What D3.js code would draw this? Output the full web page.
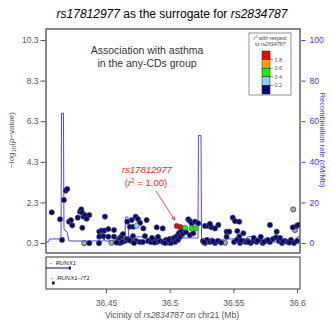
<!DOCTYPE html>
<html><head><meta charset="utf-8">
<script src="https://cdn.jsdelivr.net/npm/d3@7"></script>
<style>
body{margin:0;background:#fff;}
text{font-family:"Liberation Sans",Arial,sans-serif;}
</style></head>
<body><svg id="c" width="331" height="321"></svg>
<script>
// ---- data ----
const snpPos = [36.4074,36.4139,36.4155,36.4170,36.4184,36.4196,36.4210,36.4225,36.4235,36.4278,
36.4296,36.4306,36.4314,36.4322,36.4335,36.4348,36.4314,36.4369,36.4329,36.4369,
36.4445,36.4492,36.4447,36.4466,36.4487,36.4518,36.4447,36.4479,36.4518,36.4563,
36.4563,36.4542,36.4597,36.4610,36.4623,36.4633,36.4610,36.4649,36.4626,36.4665,
36.4582,36.4667,36.4688,36.4702,36.4714,36.4741,36.4733,36.4751,36.4767,36.4793,
36.4819,36.4712,36.4696,36.4736,36.4767,36.4806,36.4830,36.4853,36.4877,36.4898,
36.4900,36.4924,36.4945,36.4947,36.4971,36.4987,36.5002,36.5018,36.5034,36.5042,
36.5057,36.5065,36.5073,36.5081,36.5089,36.5101,36.5104,36.5055,36.5081,36.5099,
36.5120,36.5173,36.5204,36.5146,36.5159,36.5173,36.5199,36.5225,36.5159,36.5185,
36.5128,36.4908,36.4861,36.4963,36.5277,36.5303,36.5330,36.5356,36.5382,36.5316,
36.5261,36.5277,36.5293,36.5316,36.5332,36.5356,36.5379,36.5403,36.5434,36.5447,
36.5468,36.5447,36.5495,36.5513,36.5546,36.5531,36.5578,36.5546,36.5505,36.5528,
36.5552,36.5575,36.5599,36.5613,36.5636,36.5660,36.5683,36.5707,36.5730,36.5754,
36.5787,36.5787,36.5811,36.5840,36.5834,36.5858,36.5882,36.5905,36.5929,36.5952,
36.5970,36.5966,36.5984,36.5997,36.6010,36.5976,36.6000,36.5866,36.5715,36.5660,
36.4681,36.4720,36.4790,36.5620,36.5690,36.5740,36.5770,36.5890,36.5940,36.5270,
36.5340,36.5560,36.5010,36.4990,36.4880];
const snpLogP = [1.81,1.47,0.45,2.42,2.88,2.96,1.35,1.43,1.17,1.55,
1.84,1.96,1.79,1.60,1.68,1.50,1.05,1.68,0.29,0.29,
0.29,1.60,0.86,0.91,0.91,0.99,0.61,0.64,0.61,0.94,
0.61,0.31,0.45,0.55,0.64,0.74,0.30,0.40,0.35,0.50,
0.32,1.35,1.10,1.43,1.10,1.15,1.60,1.48,1.29,1.02,
1.43,0.64,0.40,0.40,0.35,0.64,0.40,0.35,0.45,1.07,
0.35,0.40,1.02,0.35,0.45,0.32,0.50,0.40,0.55,0.35,
0.64,0.45,0.79,0.60,0.89,0.74,0.99,1.14,1.10,1.02,
1.05,1.02,1.02,1.47,1.38,1.27,1.35,1.27,0.69,0.78,
0.84,0.60,0.55,0.30,1.14,1.14,1.07,1.02,1.19,1.24,
0.40,0.30,0.45,0.35,0.42,0.30,0.40,0.32,0.31,0.86,
0.86,0.61,1.55,1.38,1.35,0.89,0.78,0.61,0.35,0.45,
0.30,0.40,0.35,0.40,0.30,0.40,0.35,0.45,0.30,0.40,
1.19,0.35,0.50,0.86,0.58,0.40,0.30,0.40,0.35,0.45,
1.96,1.07,0.94,1.14,1.19,0.30,0.40,0.55,0.60,0.55,
0.45,0.30,0.35,0.35,0.42,0.35,0.45,0.38,0.32,0.35,
0.38,0.42,0.30,0.45,0.32];
// r2 with respect to rs2834787 (null = not available)
const snpR2 = [0.1,0.1,0.1,0.1,0.1,0.1,0.1,0.1,0.1,0.1,
0.1,0.1,0.1,0.1,0.1,0.1,0.1,0.1,null,0.1,
0.1,0.1,0.1,0.1,0.1,0.1,0.1,0.1,0.1,0.1,
0.1,null,0.1,0.1,0.1,0.1,0.1,0.1,0.1,0.1,
0.1,0.1,0.1,0.1,0.1,0.3,0.1,0.1,0.1,0.1,
0.1,0.1,0.1,0.1,0.1,0.1,0.1,0.1,0.1,0.1,
0.1,0.1,0.1,0.1,0.1,0.1,0.1,0.1,0.1,0.1,
0.1,0.1,0.1,0.1,0.1,0.1,0.1,1.0,0.95,null,
0.5,0.5,0.5,0.1,0.1,0.1,0.1,0.1,0.1,0.1,
0.1,0.1,0.1,0.1,0.1,0.1,0.1,0.1,0.1,0.1,
0.1,0.1,0.1,0.1,0.1,0.1,0.1,0.1,null,0.1,
0.1,0.1,0.1,0.1,0.1,0.1,0.1,0.1,0.1,0.1,
0.1,0.1,0.1,0.1,0.1,0.1,0.1,0.1,0.1,0.1,
0.1,0.1,0.1,0.1,0.1,0.1,0.1,0.1,0.1,0.1,
null,0.1,null,0.1,0.1,0.1,0.1,0.1,0.1,0.1,
0.1,0.1,0.1,0.1,0.1,0.1,0.1,0.1,0.1,0.1,
0.1,0.1,0.1,0.1,0.1];
const recPos = [36.4029,36.4045,36.4060,36.4139,36.4147,36.4151,36.4166,36.4170,36.4194,36.4210,
36.4476,36.4484,36.4492,36.4649,36.4653,36.4673,36.4677,36.4681,36.4822,36.4830,
36.5057,36.5073,36.5222,36.5226,36.5246,36.5250,36.5415,36.5423,36.5604,36.5612,36.5644,36.5652,
36.5992,36.6000,36.6023];
const recRate = [0.5,0.5,2.0,2.0,2.0,64,64,6.9,5.4,1.0,
1.0,2.5,1.0,1.0,12.8,12.8,3.0,3.0,3.0,0.5,
0.5,2.5,2.5,53,53,1.5,1.5,2.0,2.0,3.1,3.1,0.5,
0.5,3.0,3.0];
const leftTicks = [0.3,2.3,4.3,6.3,8.3,10.3];
const leftTickLabels = ["0.3","2.3","4.3","6.3","8.3","10.3"];
const rightTicks = [0,20,40,60,80,100];
const rightTickLabels = ["0","20","40","60","80","100"];
const xTicks = [36.45,36.5,36.55,36.6];
const xTickLabels = ["36.45","36.5","36.55","36.6"];
const legendBreaks = [1.0,0.8,0.6,0.4,0.2,0.0];
const legendColors = ["#FF0000","#FFA500","#00FF00","#87CEFA","#000080"];
const legendTickLabels = ["0.8","0.6","0.4","0.2"];
const genes = [{name:"RUNX1",start:36.4029,end:36.4220,row:0},{name:"RUNX1\u2212IT1",start:36.4085,end:36.4092,row:1}];
const leadSnp = {name:"rs17812977",pos:36.5055,logp:1.14,r2:"1.00"};

// ---- layout ----
const svg = d3.select("#c");
const L=46,R=300,T=29,B=253;
const x = d3.scaleLinear().domain([36.4029,36.6023]).range([L,R]);
const y = d3.scaleLinear().domain([0.3,10.3]).range([243,40]);
const yr = d3.scaleLinear().domain([0,100]).range([243,40]);
const r2col = d3.scaleThreshold().domain([0.2,0.4,0.6,0.8]).range(["#000080","#87CEFA","#00FF00","#FFA500","#FF0000"]);

// title
const title = svg.append("text").attr("x",172).attr("y",18).attr("text-anchor","middle").style("font-size","12px").attr("fill","#000");
title.append("tspan").attr("font-style","italic").text("rs17812977");
title.append("tspan").text(" as the surrogate for ");
title.append("tspan").attr("font-style","italic").text("rs2834787");

// clip
svg.append("clipPath").attr("id","pc").append("rect").attr("x",L).attr("y",T).attr("width",R-L).attr("height",B-T);
const g = svg.append("g").attr("clip-path","url(#pc)");

// recombination line
g.append("path").datum(recPos.map((p,i)=>[p,recRate[i]]))
 .attr("d",d3.line().x(d=>x(d[0])).y(d=>yr(d[1])))
 .attr("fill","none").attr("stroke","#4a4aff").attr("stroke-width",1);

// points
const pts = snpPos.map((p,i)=>({p,v:snpLogP[i],r:snpR2[i]}));
pts.sort((a,b)=>(a.r===null?0.05:a.r)-(b.r===null?0.05:b.r));
g.selectAll("circle.s").data(pts).join("circle")
 .attr("cx",d=>x(d.p)).attr("cy",d=>y(d.v)).attr("r",2.6)
 .attr("fill",d=>d.r===null?"#a8a8a8":r2col(d.r))
 .attr("stroke",d=>d.r===null?"#333":"#555").attr("stroke-width",0.7);

// plot box
svg.append("rect").attr("x",L).attr("y",T).attr("width",R-L).attr("height",B-T)
 .attr("fill","none").attr("stroke","#555").attr("stroke-width",1.4);

// left axis
const la = svg.append("g").attr("transform",`translate(${L-0.5},0)`)
 .call(d3.axisLeft(y).tickValues(leftTicks).tickFormat((d,i)=>leftTickLabels[i]).tickSize(5).tickPadding(2));
la.select(".domain").remove();
la.selectAll("line").attr("stroke","#555");
la.selectAll("text").attr("fill","#555").style("font-size","8.5px").style("font-family","Liberation Sans, Arial");

// right axis
const ra = svg.append("g").attr("transform",`translate(${R+1.5},0)`)
 .call(d3.axisRight(yr).tickValues(rightTicks).tickFormat((d,i)=>rightTickLabels[i]).tickSize(4).tickPadding(4));
ra.select(".domain").remove();
ra.selectAll("line").attr("stroke","#3838ff");
ra.selectAll("text").attr("fill","#3838ff").style("font-size","8.5px").style("font-family","Liberation Sans, Arial");

// axis titles
const yl = svg.append("text").attr("transform","translate(14,140) rotate(-90)").attr("text-anchor","middle")
 .attr("fill","#555").style("font-size","8px");
yl.append("tspan").text("\u2212log");
yl.append("tspan").attr("dy",2).style("font-size","6px").text("10");
yl.append("tspan").attr("dy",-2).text("(");
yl.append("tspan").attr("font-style","italic").text("p");
yl.append("tspan").text("\u2212value)");
svg.append("text").attr("transform","translate(320,140) rotate(90)").attr("text-anchor","middle")
 .attr("fill","#3838ff").style("font-size","7.5px").text("Recombination rate (cM/Mb)");

// annotation
svg.append("text").attr("x",147).attr("y",54).attr("text-anchor","middle").attr("fill","#333").style("font-size","10.5px").text("Association with asthma");
svg.append("text").attr("x",147).attr("y",67).attr("text-anchor","middle").attr("fill","#333").style("font-size","10.5px").text("in the any-CDs group");

// lead label
svg.append("text").attr("x",147).attr("y",173).attr("text-anchor","middle").attr("fill","#ff1a1a")
 .style("font-size","9.5px").attr("font-style","italic").text(leadSnp.name);
const l2 = svg.append("text").attr("x",146).attr("y",185.5).attr("text-anchor","middle").attr("fill","#ff1a1a").style("font-size","9.5px");
l2.append("tspan").text("(");
l2.append("tspan").attr("font-style","italic").text("r");
l2.append("tspan").attr("dy",-3).style("font-size","6.5px").text("2");
l2.append("tspan").attr("dy",3).text(" = " + leadSnp.r2 + ")");
// arrow
const ax0=156, ay0=191, ax1=x(leadSnp.pos)-2, ay1=y(leadSnp.logp)-6;
svg.append("line").attr("x1",ax0).attr("y1",ay0).attr("x2",ax1).attr("y2",ay1).attr("stroke","#ff1a1a").attr("stroke-width",0.8);
const ang=Math.atan2(ay1-ay0,ax1-ax0);
const ah=4;
svg.append("path").attr("d",`M${ax1-ah*Math.cos(ang-0.45)},${ay1-ah*Math.sin(ang-0.45)}L${ax1},${ay1}L${ax1-ah*Math.cos(ang+0.45)},${ay1-ah*Math.sin(ang+0.45)}`)
 .attr("fill","none").attr("stroke","#ff1a1a").attr("stroke-width",0.8);

// legend
const lg = svg.append("g");
lg.append("rect").attr("x",249).attr("y",33).attr("width",42).attr("height",62).attr("fill","#fff").attr("stroke","#777").attr("stroke-width",0.8);
const lt = lg.append("text").attr("x",270).attr("y",39.5).attr("text-anchor","middle").attr("fill","#444").style("font-size","5.2px");
lt.append("tspan").attr("font-style","italic").text("r");
lt.append("tspan").attr("dy",-1.5).style("font-size","3.8px").text("2");
lt.append("tspan").attr("dy",1.5).text(" with respect");
const lt2 = lg.append("text").attr("x",255).attr("y",45.5).attr("fill","#444").style("font-size","5.2px");
lt2.append("tspan").text("to ");
lt2.append("tspan").attr("font-style","italic").text("rs2834787");
const ly = d3.scaleLinear().domain([1,0]).range([51,94]);
lg.selectAll("rect.c").data(legendColors).join("rect").attr("class","c")
 .attr("x",262).attr("width",8).attr("y",(d,i)=>ly(legendBreaks[i])).attr("height",(d,i)=>ly(legendBreaks[i+1])-ly(legendBreaks[i]))
 .attr("fill",d=>d).attr("stroke","#222").attr("stroke-width",0.5);
lg.selectAll("line.t").data(legendTickLabels).join("line").attr("x1",270).attr("x2",273)
 .attr("y1",(d,i)=>ly(legendBreaks[i+1])).attr("y2",(d,i)=>ly(legendBreaks[i+1])).attr("stroke","#444").attr("stroke-width",0.6);
lg.selectAll("text.t").data(legendTickLabels).join("text").attr("x",274.5)
 .attr("y",(d,i)=>ly(legendBreaks[i+1])+2).attr("fill","#555").style("font-size","5.5px").text(d=>d);

// gene panel
const GT=257, GB=289;
svg.append("rect").attr("x",L).attr("y",GT).attr("width",R-L).attr("height",GB-GT).attr("fill","none").attr("stroke","#555").attr("stroke-width",1.2);
const gg = svg.append("g");
genes.forEach(ge=>{
  const ly0 = GT+6+ge.row*15;
  const lineY = ly0+5;
  if (ge.end-ge.start>0.002) {
    gg.append("line").attr("x1",Math.max(L,x(ge.start))).attr("x2",x(ge.end)).attr("y1",lineY).attr("y2",lineY).attr("stroke","#00008b").attr("stroke-width",1);
    gg.append("rect").attr("x",x(ge.end)-1.5).attr("y",lineY-1.5).attr("width",2).attr("height",3).attr("fill","#00008b");
  } else {
    gg.append("rect").attr("x",x(ge.start)-1).attr("y",lineY-1.5).attr("width",2.5).attr("height",3).attr("fill","#00008b");
  }
  const t = gg.append("text").attr("x",L+2+ge.row*1.5).attr("y",ly0+2).attr("fill","#222").style("font-size","6px").attr("font-style","italic");
  t.text("\u2190 " + ge.name);
});

// x axis
const xa = svg.append("g").attr("transform",`translate(0,${GB})`)
 .call(d3.axisBottom(x).tickValues(xTicks).tickFormat((d,i)=>xTickLabels[i]).tickSize(4).tickPadding(7));
xa.select(".domain").remove();
xa.selectAll("line").attr("stroke","#555");
xa.selectAll("text").attr("fill","#555").style("font-size","8.5px").style("font-family","Liberation Sans, Arial");
const xt = svg.append("text").attr("x",172).attr("y",318).attr("text-anchor","middle").attr("fill","#555").style("font-size","8.5px");
xt.append("tspan").text("Vicinity of ");
xt.append("tspan").attr("font-style","italic").text("rs2834787");
xt.append("tspan").text(" on chr21 (Mb)");
</script></body></html>
